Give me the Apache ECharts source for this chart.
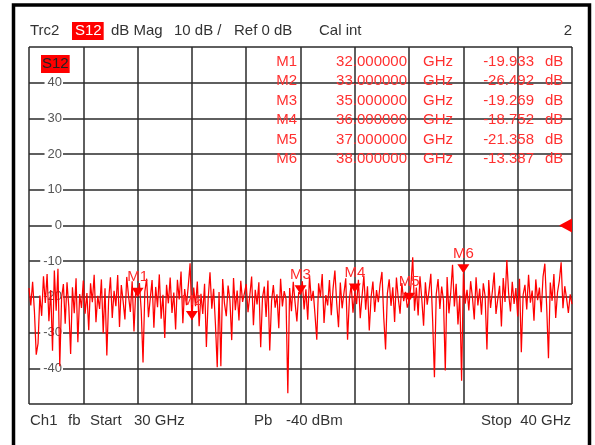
<!DOCTYPE html>
<html><head><meta charset="utf-8">
<script src="https://cdn.jsdelivr.net/npm/echarts@6/dist/echarts.min.js"></script>
<style>html,body{margin:0;padding:0;background:#fff}#c{width:595px;height:445px}</style>
</head><body><div id="c"></div>
<script>
const startGHz = 30, stopGHz = 40;
const yMin = -50, yMax = 50, yStep = 10;
const traceDb = [
-17.5,-22.4,-15.8,-24.1,-36.2,-33.0,-19.6,-25.3,-14.2,-21.7,-13.6,-26.8,-18.1,-35.1,-12.6,-23.9,-12.1,-39.4,-20.3,-16.4,-27.5,-15.9,-22.8,-36.0,-17.3,-24.6,-14.8,-32.7,-19.2,-23.1,
-15.4,-24.7,-18.9,-29.3,-16.2,-21.5,-13.8,-27.1,-19.7,-23.4,-15.1,-30.2,-17.6,-36.4,-20.8,-14.5,-25.9,-18.3,-22.6,-13.9,-28.4,-16.7,-21.2,-26.3,-14.4,-19.8,-24.2,-15.6,-29.7,-17.9,
-19.933,-16.1,-23.8,-38.4,-18.5,-14.9,-25.7,-20.4,-15.3,-28.6,-17.2,-22.9,-13.7,-26.1,-19.4,-31.5,-16.6,-21.8,-14.6,-24.5,-18.8,-29.1,-15.2,-20.7,-12.9,-27.4,-17.8,-22.3,-16.9,-10.6,
-26.492,-17.4,-22.6,-15.7,-28.2,-19.1,-24.8,-16.3,-34.0,-20.5,-13.1,-23.3,-17.7,-27.6,-39.7,-18.6,-39.4,-15.0,-21.9,-25.4,-16.8,-20.9,-32.1,-14.7,-23.7,-18.2,-26.6,-15.5,-21.4,-19.0,
-16.4,-24.3,-19.6,-14.3,-27.9,-18.0,-22.1,-15.9,-34.1,-20.2,-17.1,-25.6,-15.4,-35.0,-21.3,-16.7,-23.0,-19.3,-28.8,-14.9,-22.7,-18.4,-20.6,-47.0,-17.5,-24.0,-15.8,-21.6,-26.9,-18.7,
-19.269,-15.6,-23.5,-17.9,-26.4,-14.1,-21.1,-18.3,-24.9,-32.0,-16.2,-20.0,-13.6,-27.3,-19.5,-22.4,-15.3,-25.1,-17.6,-12.6,-21.7,-28.5,-16.0,-23.2,-18.9,-14.8,-32.0,-20.7,-16.5,-24.4,
-18.752,-22.0,-15.2,-26.0,-19.9,-14.0,-23.6,-17.0,-29.4,-20.1,-15.7,-24.2,-18.1,-21.5,-16.4,-13.0,-25.8,-34.7,-19.0,-15.1,-22.5,-17.3,-27.0,-14.6,-20.3,-24.7,-16.1,-21.2,-18.6,-23.0,
-21.358,-16.8,-8.9,-23.9,-17.4,-25.2,-14.2,-20.5,-28.1,-15.9,-22.2,-18.3,-13.5,-26.5,-42.5,-19.2,-15.0,-23.4,-17.1,-21.0,-40.6,-14.4,-24.6,-18.8,-11.0,-22.7,-16.3,-27.7,-19.6,-43.5,
-13.387,-21.9,-18.0,-23.8,-15.6,-20.2,-26.3,-14.5,-22.4,-17.7,-25.0,-16.2,-19.8,-34.7,-15.3,-23.1,-18.5,-13.2,-24.8,-20.6,-16.9,-28.3,-14.7,-21.4,-9.7,-19.1,-24.1,-15.8,-22.0,-17.5,
-25.5,-14.9,-35.5,-19.4,-16.6,-23.5,-13.8,-21.6,-18.2,-26.7,-15.1,-20.9,-17.4,-24.3,-14.3,-10.7,-22.6,-37.2,-16.0,-21.1,-13.6,-25.9,-18.7,-15.5,-10.3,-23.2,-17.0,-20.4,-24.5,-19.3,-22.0
];
const markerNames = ['M1','M2','M3','M4','M5','M6'];
const markerGHz = [32, 33, 35, 36, 37, 38];
const markerDb = [-19.933, -26.492, -19.269, -18.752, -21.358, -13.387];
const refLevelDb = 0;
const headerTexts = ['Trc2', 'S12', 'dB Mag', '10 dB /', 'Ref 0 dB', 'Cal int', '2'];
const footerTexts = ['Ch1', 'fb', 'Start', '30 GHz', 'Pb', '-40 dBm', 'Stop  40 GHz'];

const n = traceDb.length;
const traceData = traceDb.map((v, i) => [startGHz + i * (stopGHz - startGHz) / (n - 1), v]);

const RED = '#ff0000';
const FONT = '"Liberation Sans", Arial, sans-serif';

const markPts = markerNames.map((nm, i) => ({
  name: nm, coord: [markerGHz[i], markerDb[i]],
  symbol: 'path://M0,0 L12,0 L6,9 Z', symbolSize: [12, 9], symbolOffset: [0, -4.5],
  itemStyle: {color: RED},
  label: {show: true, position: 'top', distance: 3, formatter: nm, color: '#ff2a2a', fontSize: 15, fontFamily: FONT}
}));
markPts.push({
  name: 'ref', coord: [stopGHz, refLevelDb],
  symbol: 'path://M0,7 L13,0 L13,14 Z', symbolSize: [13, 14], symbolOffset: [-6.5, 0],
  itemStyle: {color: RED}, label: {show: false}
});

const graphics = [];
graphics.push({type: 'rect', shape: {x: 13.5, y: 5, width: 576, height: 470}, style: {fill: 'none', stroke: '#000', lineWidth: 3.5}, z: 10});
const hx = [30, 72, 111, 174, 234, 319, 572];
headerTexts.forEach((t, i) => {
  const isBox = (i === 1);
  graphics.push({type: 'text', x: hx[i], y: 31, z: 10, style: {
    text: t, fill: isBox ? '#fff' : '#333', font: '15px ' + FONT,
    textAlign: i === 6 ? 'right' : 'left', textVerticalAlign: 'middle',
    backgroundColor: isBox ? '#ff0000' : null, padding: isBox ? [2, 2, 1, 3] : 0
  }});
});
const fx = [30, 68, 90, 134, 254, 286, 571];
footerTexts.forEach((t, i) => {
  graphics.push({type: 'text', x: fx[i], y: 421, z: 10, style: {
    text: t, fill: '#333', font: '15px ' + FONT,
    textAlign: i === 6 ? 'right' : 'left', textVerticalAlign: 'middle'
  }});
});
graphics.push({type: 'text', x: 41, y: 64, z: 10, style: {
  text: 'S12', fill: '#222', font: '15px ' + FONT, textAlign: 'left', textVerticalAlign: 'middle',
  backgroundColor: '#ff0000', padding: [2, 1, 1, 1]
}});
markerNames.forEach((nm, i) => {
  const y = 61.5 + i * 19.5;
  const st = (t, x, al) => ({type: 'text', x: x, y: y, z: 1, style: {
    text: t, fill: '#ff3030', font: '15px ' + FONT, textAlign: al, textVerticalAlign: 'middle'}});
  graphics.push(st(nm, 297, 'right'));
  graphics.push(st(markerGHz[i].toFixed(6), 407, 'right'));
  graphics.push(st('GHz', 423, 'left'));
  graphics.push(st(markerDb[i].toFixed(3), 534, 'right'));
  graphics.push(st('dB', 545, 'left'));
});

const chart = echarts.init(document.getElementById('c'), null, {renderer: 'canvas'});
chart.setOption({
  animation: false,
  backgroundColor: '#fff',
  grid: {left: 29, top: 47, width: 543, height: 357, containLabel: false},
  xAxis: {
    type: 'value', min: startGHz, max: stopGHz, interval: 1,
    axisLine: {show: false}, axisTick: {show: false}, axisLabel: {show: false},
    splitLine: {show: true, lineStyle: {color: '#2a2a2a', width: 1.5}}
  },
  yAxis: {
    type: 'value', min: yMin, max: yMax, interval: yStep,
    axisLine: {show: false}, axisTick: {show: false},
    splitLine: {show: true, lineStyle: {color: '#2a2a2a', width: 1.5}},
    axisLabel: {
      inside: true, margin: 34, align: 'right', color: '#555', fontSize: 13, fontFamily: FONT,
      backgroundColor: '#fff', padding: [0, 1, 0, 3],
      formatter: v => (v === yMin || v === yMax) ? '' : String(v)
    }
  },
  series: [{
    type: 'line', data: traceData, showSymbol: false, symbol: 'none',
    lineStyle: {color: RED, width: 1.25}, z: 3,
    markPoint: {data: markPts, z: 5, animation: false}
  }],
  graphic: graphics
});
</script></body></html>
